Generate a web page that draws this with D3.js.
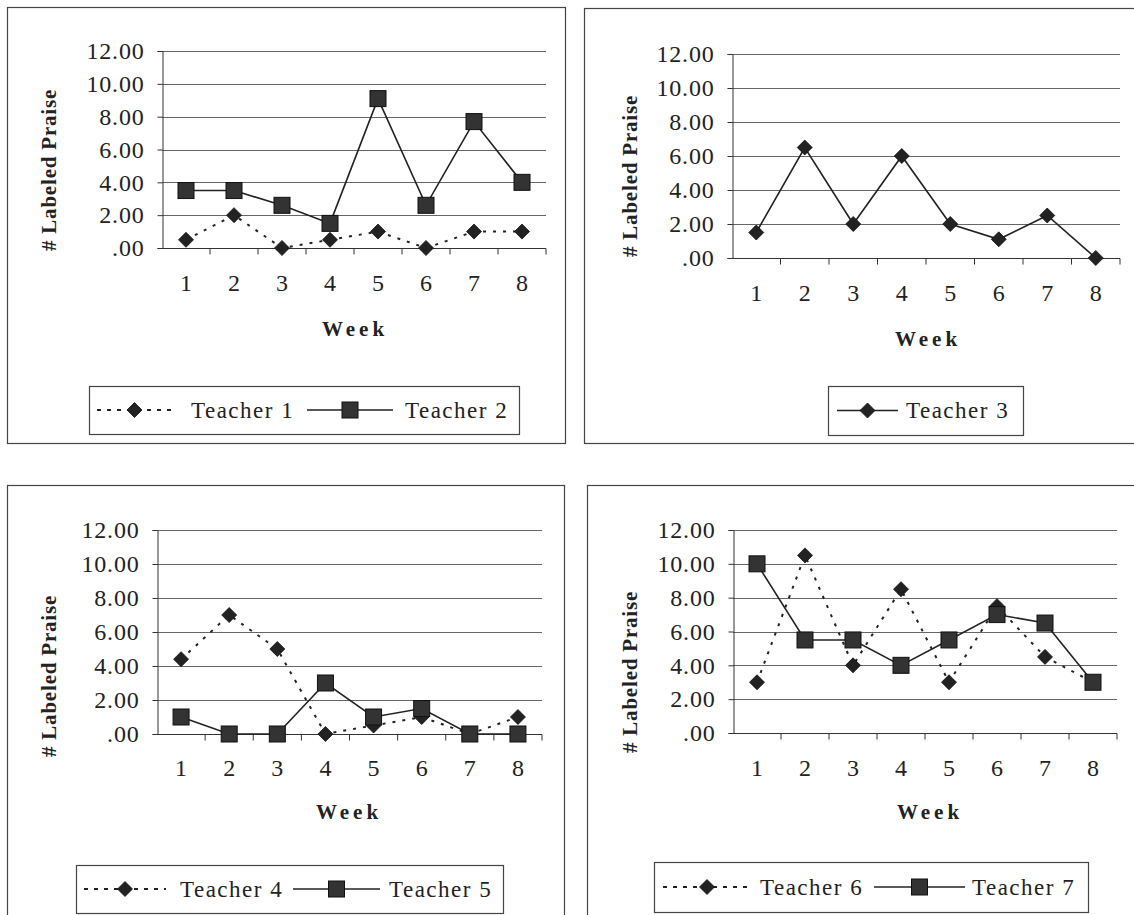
<!DOCTYPE html>
<html>
<head>
<meta charset="utf-8">
<script src="https://cdn.jsdelivr.net/npm/d3@7"></script>
<style>
  html, body { margin: 0; padding: 0; background: #fff; }
  svg { display: block; }
</style>
</head>
<body>
<svg id="chart" width="1134" height="915"></svg>
<script>
// ---- data ----
const weeks = [1, 2, 3, 4, 5, 6, 7, 8];
const yTicks = [0, 2, 4, 6, 8, 10, 12];
const teacher1 = [0.5, 2.0, 0, 0.5, 1.0, 0, 1.0, 1.0];
const teacher2 = [3.5, 3.5, 2.6, 1.5, 9.1, 2.6, 7.7, 4.0];
const teacher3 = [1.5, 6.5, 2.0, 6.0, 2.0, 1.1, 2.5, 0];
const teacher4 = [4.4, 7.0, 5.0, 0, 0.5, 1.0, 0, 1.0];
const teacher5 = [1.0, 0, 0, 3.0, 1.0, 1.5, 0, 0];
const teacher6 = [3.0, 10.5, 4.0, 8.5, 3.0, 7.5, 4.5, 3.0];
const teacher7 = [10.0, 5.5, 5.5, 4.0, 5.5, 7.0, 6.5, 3.0];
const yTitle = "# Labeled Praise";
const xTitle = "Week";

// ---- layout ----
const panels = [
  { box: [7, 7, 565, 443], plot: [162, 546, 51, 248], yt: [49, 170], wk: [355, 329], xlY: 283,
    leg: [89, 386, 519, 434], items: [[97, 75, 191], [307, 86, 405]],
    series: [{ name: "Teacher 1", data: teacher1, dashed: true, marker: "diamond" },
             { name: "Teacher 2", data: teacher2, dashed: false, marker: "square" }] },
  { box: [584, 8, 1145, 443], plot: [732, 1120, 54, 258], yt: [630, 176], wk: [928, 339], xlY: 293,
    leg: [828, 386, 1023, 435], items: [[837, 61, 906]],
    series: [{ name: "Teacher 3", data: teacher3, dashed: false, marker: "diamond" }] },
  { box: [7, 485, 564, 925], plot: [157, 542, 530, 734], yt: [49, 676], wk: [349, 812], xlY: 768,
    leg: [76, 865, 503, 913], items: [[84, 82, 180], [293, 87, 389]],
    series: [{ name: "Teacher 4", data: teacher4, dashed: true, marker: "diamond" },
             { name: "Teacher 5", data: teacher5, dashed: false, marker: "square" }] },
  { box: [587, 485, 1145, 925], plot: [733, 1117, 530, 733], yt: [630, 672], wk: [930, 812], xlY: 768,
    leg: [654, 862, 1088, 912], items: [[663, 88, 760], [874, 91, 972]],
    series: [{ name: "Teacher 6", data: teacher6, dashed: true, marker: "diamond" },
             { name: "Teacher 7", data: teacher7, dashed: false, marker: "square" }] }
];

const svg = d3.select("#chart");
const fmt = v => v === 0 ? ".00" : d3.format(".2f")(v);
const ink = "#222";
const SERIF = "'Liberation Serif'";

function drawMarker(g, type, x, y) {
  if (type === "square") {
    g.append("rect").attr("x", x - 8).attr("y", y - 8).attr("width", 16).attr("height", 16)
      .attr("fill", "#333").attr("stroke", "#111").attr("stroke-width", 1);
  } else {
    const s = 7.5;
    g.append("path").attr("d", `M${x},${y - s}L${x + s},${y}L${x},${y + s}L${x - s},${y}Z`)
      .attr("fill", "#222").attr("stroke", "#111").attr("stroke-width", 0.8);
  }
}

panels.forEach(p => {
  const g = svg.append("g");
  const [bx0, by0, bx1, by1] = p.box;
  g.append("rect").attr("x", bx0 + 0.5).attr("y", by0 + 0.5)
    .attr("width", bx1 - bx0).attr("height", by1 - by0)
    .attr("fill", "none").attr("stroke", "#444").attr("stroke-width", 1.2);

  const [px0, px1, py0, py1] = p.plot;
  const x = d3.scaleBand().domain(weeks).range([px0, px1]);
  const y = d3.scaleLinear().domain([0, 12]).range([py1, py0]);

  // gridlines
  g.append("g").selectAll("line").data(yTicks.filter(t => t > 0)).join("line")
    .attr("x1", px0).attr("x2", px1)
    .attr("y1", d => Math.round(y(d)) + 0.5).attr("y2", d => Math.round(y(d)) + 0.5)
    .attr("stroke", "#666").attr("stroke-width", 1);

  // y axis
  const ya = g.append("g").attr("transform", `translate(${px0 + 0.5},0)`)
    .call(d3.axisLeft(y).tickValues(yTicks).tickFormat(fmt).tickSize(5).tickPadding(13));
  ya.attr("font-family", null).attr("font-size", null);
  ya.select(".domain").attr("stroke", "#333");
  ya.selectAll(".tick line").attr("stroke", "#333");
  ya.selectAll(".tick text").style("font-family", SERIF).style("font-size", "24px")
    .style("fill", ink).style("letter-spacing", "0.8px");

  // x axis (ticks at category boundaries)
  const xa = g.append("g").attr("transform", `translate(0,${Math.round(py1) + 0.5})`);
  xa.append("line").attr("x1", px0).attr("x2", px1).attr("stroke", "#333");
  const bounds = weeks.map(w => x(w)).concat([px1]).slice(1);
  xa.selectAll("line.tk").data(bounds).join("line").attr("class", "tk")
    .attr("x1", d => d).attr("x2", d => d).attr("y1", 0).attr("y2", 6).attr("stroke", "#333");
  g.append("g").selectAll("text").data(weeks).join("text")
    .attr("x", d => x(d) + x.bandwidth() / 2).attr("y", p.xlY)
    .attr("text-anchor", "middle").attr("dominant-baseline", "central")
    .style("font-family", SERIF).style("font-size", "24px").style("fill", ink).text(d => d);

  // titles
  g.append("text").attr("transform", `translate(${p.yt[0]},${p.yt[1]}) rotate(-90)`)
    .attr("text-anchor", "middle").attr("dominant-baseline", "central")
    .style("font-family", SERIF).style("fill", ink)
    .style("font-size", "21px").style("font-weight", "bold").style("letter-spacing", "0.8px")
    .text(yTitle);
  g.append("text").attr("x", p.wk[0]).attr("y", p.wk[1])
    .attr("text-anchor", "middle").attr("dominant-baseline", "central")
    .style("font-family", SERIF).style("fill", ink)
    .style("font-size", "21px").style("font-weight", "bold").style("letter-spacing", "4px")
    .text(xTitle);

  // series
  const line = d3.line().x((d, i) => x(weeks[i]) + x.bandwidth() / 2).y(d => y(d));
  p.series.forEach(s => {
    g.append("path").attr("d", line(s.data)).attr("fill", "none")
      .attr("stroke", "#222").attr("stroke-width", s.dashed ? 2 : 1.6)
      .attr("stroke-dasharray", s.dashed ? "3,7" : null);
    s.data.forEach((v, i) => drawMarker(g, s.marker, x(weeks[i]) + x.bandwidth() / 2, y(v)));
  });

  // legend
  const [lx0, ly0, lx1, ly1] = p.leg;
  g.append("rect").attr("x", lx0 + 0.5).attr("y", ly0 + 0.5)
    .attr("width", lx1 - lx0).attr("height", ly1 - ly0)
    .attr("fill", "#fff").attr("stroke", "#444").attr("stroke-width", 1.2);
  const cy = (ly0 + ly1) / 2;
  p.series.forEach((s, i) => {
    const [sx, len, tx] = p.items[i];
    g.append("line").attr("x1", sx).attr("x2", sx + len).attr("y1", cy).attr("y2", cy)
      .attr("stroke", "#222").attr("stroke-width", s.dashed ? 2 : 1.6)
      .attr("stroke-dasharray", s.dashed ? "4,6" : null);
    drawMarker(g, s.marker, sx + len / 2, cy);
    g.append("text").attr("x", tx).attr("y", cy)
      .attr("dominant-baseline", "central")
      .style("font-family", SERIF).style("fill", ink)
      .style("font-size", "23px").style("letter-spacing", "1.5px").text(s.name);
  });
});
</script>
</body>
</html>
